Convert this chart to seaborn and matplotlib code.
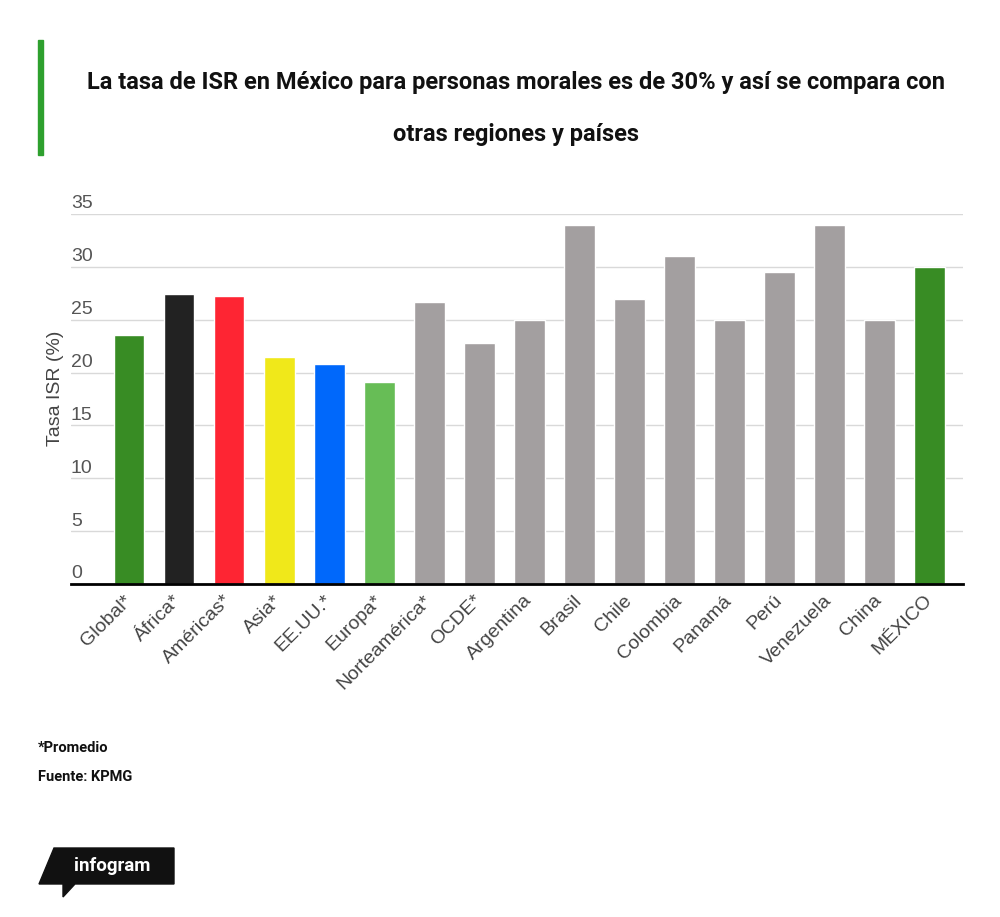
import matplotlib
matplotlib.use("Agg")
import matplotlib.pyplot as plt
from matplotlib.patches import Polygon, Rectangle
import seaborn as sns
import pandas as pd

# ---------------- data ----------------
categories = ['Global*', 'África*', 'Américas*', 'Asia*', 'EE.UU.*', 'Europa*',
              'Norteamérica*', 'OCDE*', 'Argentina', 'Brasil', 'Chile', 'Colombia',
              'Panamá', 'Perú', 'Venezuela', 'China', 'MÉXICO']
tasa_isr = [23.6, 27.4, 27.2, 21.5, 20.8, 19.1, 26.7, 22.8, 25, 34, 27, 31,
            25, 29.5, 34, 25, 30]
bar_colors = ['#388c24', '#222222', '#fe2533', '#f0e81a', '#0068fb', '#67bd56',
              '#a39fa0', '#a39fa0', '#a39fa0', '#a39fa0', '#a39fa0', '#a39fa0',
              '#a39fa0', '#a39fa0', '#a39fa0', '#a39fa0', '#388c24']
y_ticks = [0, 5, 10, 15, 20, 25, 30, 35]

title_1 = 'La tasa de ISR en México para personas morales es de 30% y así se compara con'
title_2 = 'otras regiones y países'

df = pd.DataFrame({'pais': categories, 'tasa': tasa_isr})

sns.set_theme(style='white')
plt.rcParams['font.family'] = ['Liberation Sans', 'DejaVu Sans']
head_font = ['Roboto', 'DejaVu Sans']

fig = plt.figure(figsize=(10, 9.17), dpi=100)
ax = fig.add_axes([0.071, 0.3631, 0.892, 0.4035])

sns.barplot(data=df, x='pais', y='tasa', hue='pais', palette=bar_colors,
            legend=False, width=0.615, saturation=1, ax=ax)

ax.set_xlim(-1.16, 16.67)
ax.set_ylim(0, 35)

# grid lines
for t in y_ticks[1:]:
    ax.axhline(t, color='#d9d9d9', lw=1, zorder=0)
ax.set_axisbelow(True)

for s in ['top', 'right', 'left']:
    ax.spines[s].set_visible(False)
ax.spines['bottom'].set_color('black')
ax.spines['bottom'].set_linewidth(2)

# y tick labels sit above the grid lines (infogram style)
ax.set_yticks([])
for t in y_ticks:
    ax.annotate(str(t), xy=(0, t), xycoords=('axes fraction', 'data'),
                xytext=(0, 4), textcoords='offset points', ha='left', va='baseline',
                fontsize=14, color='#555555')

ax.set_xlabel('')
ax.tick_params(axis='x', length=0, pad=10)
plt.setp(ax.get_xticklabels(), rotation=45, ha='right', va='center',
         rotation_mode='anchor', fontsize=14, color='#444444')

ax.set_ylabel('Tasa ISR (%)', fontsize=14, color='#444444')
ax.yaxis.set_label_coords(-0.008, 0.53)

# title with the green bar on the left
fig.add_artist(Rectangle((0.038, 1 - 155 / 917), 0.005, 115 / 917,
                         transform=fig.transFigure, color='#2ea02e'))
fig.text(0.516, 0.9095, title_1, ha='center', va='center', fontsize=17,
         fontweight='bold', family=head_font, color='#111111')
fig.text(0.516, 0.853, title_2, ha='center', va='center', fontsize=17,
         fontweight='bold', family=head_font, color='#111111')

# footnotes
fig.text(0.038, 1 - 748 / 917, '*Promedio', ha='left', va='center', fontsize=10.5,
         fontweight='bold', family=head_font, color='#111111')
fig.text(0.038, 1 - 777 / 917, 'Fuente: KPMG', ha='left', va='center', fontsize=10.5,
         fontweight='bold', family=head_font, color='#111111')

# infogram badge
pts = [(54, 848), (174, 848), (174, 884), (75, 884), (63, 897), (63, 884), (39, 884)]
pts = [(x / 1000, 1 - y / 917) for x, y in pts]
fig.add_artist(Polygon(pts, closed=True, transform=fig.transFigure, color='#111111'))
fig.text(0.112, 1 - 866 / 917, 'infogram', ha='center', va='center', fontsize=13.5,
         fontweight='bold', family=head_font, color='white')

fig.savefig('out.png', dpi=100)
